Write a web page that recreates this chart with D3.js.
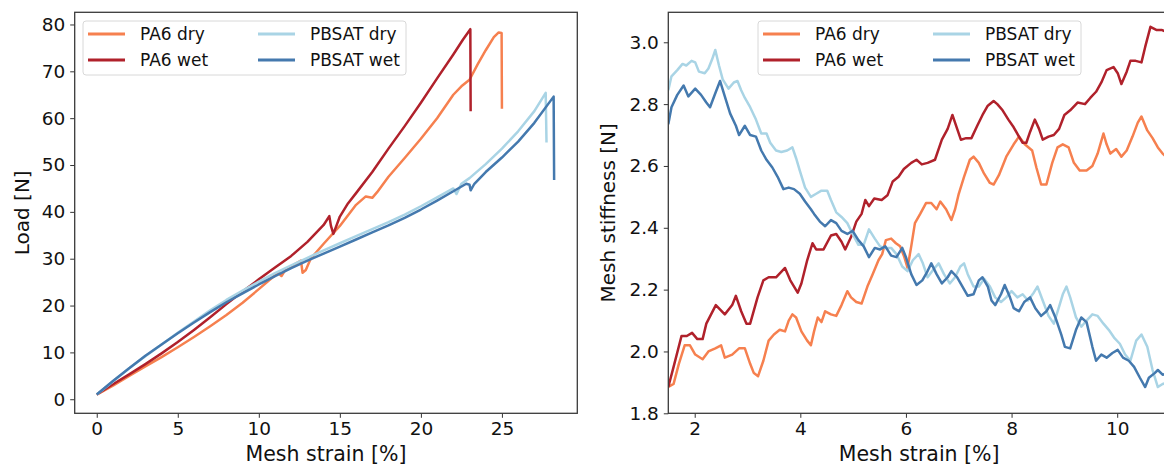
<!DOCTYPE html>
<html>
<head>
<meta charset="utf-8">
<script src="https://cdn.jsdelivr.net/npm/d3@7"></script>
<style>
  body { margin: 0; background: #fff; }
  svg { display: block; font-family: "DejaVu Sans", sans-serif; }
</style>
</head>
<body>
<svg width="1164" height="468"></svg>
<script>
// legend labels and colours
var seriesNames = ['PA6 dry', 'PA6 wet', 'PBSAT dry', 'PBSAT wet'];
var seriesColors = ['#f6804f', '#b0212b', '#a9d4e5', '#4479ae'];

// left panel: load [N] vs mesh strain [%]
var pa6DryLoad = [[0,1],[1,2.9],[2,5],[3,7],[4,9],[5,11.1],[6,13.3],[7,15.6],[8,18],[9,20.6],[10,23.5],[10.6,25.3],[11.2,27],[11.4,26.3],[11.6,27.4],[12.2,28.8],[12.6,29.6],[12.7,27],[12.9,27.6],[13.2,30],[14,33.2],[15,37],[16,41.5],[16.6,43.3],[17,43],[17.3,44.2],[18,47.5],[19,51.5],[20,55.6],[21,60],[22,65],[22.5,66.8],[23,68.2],[23.5,71.5],[24,74.5],[24.5,77.3],[24.8,78.3],[24.98,78.2],[25,62]];
var pa6WetLoad = [[0,1],[1,3.2],[2,5.3],[3,7.5],[4,9.8],[5,12.2],[6,14.8],[7,17.5],[8,20.3],[9,23],[10,25.6],[11,28.1],[12,30.6],[13,33.6],[14,37.2],[14.35,39.1],[14.45,37],[14.6,35.3],[15,39],[15.5,41.8],[16,44],[17,48.5],[18,53.5],[19,58.3],[20,63.3],[21,68.5],[22,73.6],[22.6,76.8],[23.05,79],[23.07,61.5]];
var pbsatDryLoad = [[0,1],[1,3.8],[2,6.6],[3,9.2],[4,11.7],[5,14.2],[6,16.6],[7,19],[8,21.2],[9,23.2],[10,25.1],[11,26.9],[12,28.6],[13,30.2],[14,31.8],[15,33.3],[16,34.8],[17,36.3],[18,37.8],[19,39.4],[20,41.2],[21,43.1],[22,45],[22.2,43.8],[22.5,46],[23,47.2],[24,50.2],[25,53.5],[26,57.2],[27,61.5],[27.7,65.4],[27.75,54.8]];
var pbsatWetLoad = [[0,1],[1,3.9],[2,6.6],[3,9.3],[4,11.7],[5,14.1],[6,16.4],[7,18.6],[8,20.7],[9,22.6],[10,24.5],[11,26.3],[12,28],[13,29.6],[14,31.1],[15,32.6],[16,34.1],[17,35.6],[18,37.1],[19,38.7],[20,40.5],[21,42.4],[22,44.4],[22.8,46],[23,45.8],[23.07,44.6],[23.3,46],[24,48.5],[25,51.6],[26,55],[27,59],[28.19,64.6],[28.22,46.8]];

// right panel: mesh stiffness vs mesh strain [%]
var pa6DryStiff = [[1.5,1.885],[1.6,1.895],[1.7,1.96],[1.81,2.02],[1.91,2.02],[2.01,1.99],[2.15,1.975],[2.26,2.0],[2.39,2.01],[2.5,2.02],[2.57,1.98],[2.71,1.99],[2.84,2.01],[2.95,2.01],[3.05,1.96],[3.12,1.93],[3.2,1.92],[3.3,1.97],[3.4,2.035],[3.5,2.055],[3.61,2.07],[3.71,2.065],[3.78,2.1],[3.85,2.12],[3.92,2.11],[4.02,2.065],[4.13,2.035],[4.2,2.02],[4.26,2.065],[4.33,2.11],[4.4,2.095],[4.47,2.13],[4.58,2.12],[4.68,2.115],[4.78,2.15],[4.89,2.195],[4.96,2.175],[5.06,2.16],[5.16,2.155],[5.27,2.21],[5.37,2.25],[5.48,2.295],[5.55,2.315],[5.62,2.36],[5.72,2.365],[5.81,2.35],[5.89,2.34],[5.97,2.305],[6.03,2.27],[6.1,2.34],[6.17,2.415],[6.27,2.445],[6.38,2.48],[6.48,2.48],[6.58,2.46],[6.65,2.485],[6.76,2.46],[6.86,2.425],[6.93,2.46],[7.0,2.51],[7.1,2.565],[7.21,2.62],[7.28,2.63],[7.38,2.61],[7.48,2.575],[7.59,2.545],[7.66,2.54],[7.76,2.57],[7.9,2.63],[8.04,2.67],[8.14,2.695],[8.25,2.67],[8.39,2.65],[8.47,2.595],[8.56,2.54],[8.66,2.54],[8.77,2.61],[8.87,2.66],[8.97,2.67],[9.08,2.66],[9.18,2.61],[9.29,2.585],[9.42,2.585],[9.53,2.6],[9.63,2.64],[9.74,2.705],[9.8,2.67],[9.87,2.64],[9.98,2.655],[10.08,2.63],[10.18,2.65],[10.29,2.695],[10.39,2.74],[10.46,2.76],[10.57,2.715],[10.67,2.69],[10.77,2.66],[10.86,2.64],[11.0,2.62]];
var pa6WetStiff = [[1.5,1.885],[1.6,1.95],[1.75,2.05],[1.85,2.05],[1.95,2.06],[2.05,2.04],[2.15,2.04],[2.22,2.09],[2.4,2.15],[2.57,2.12],[2.71,2.15],[2.78,2.18],[2.88,2.13],[2.98,2.09],[3.05,2.09],[3.19,2.175],[3.3,2.23],[3.4,2.24],[3.54,2.24],[3.71,2.27],[3.81,2.23],[3.95,2.19],[4.02,2.22],[4.13,2.295],[4.23,2.35],[4.3,2.33],[4.44,2.33],[4.58,2.375],[4.68,2.38],[4.78,2.355],[4.85,2.33],[4.96,2.37],[5.06,2.42],[5.16,2.445],[5.23,2.49],[5.3,2.47],[5.4,2.495],[5.54,2.49],[5.65,2.505],[5.75,2.55],[5.86,2.565],[5.96,2.59],[6.1,2.61],[6.2,2.62],[6.3,2.605],[6.41,2.61],[6.55,2.62],[6.68,2.685],[6.79,2.72],[6.88,2.765],[6.97,2.72],[7.04,2.685],[7.14,2.69],[7.24,2.69],[7.35,2.73],[7.45,2.765],[7.55,2.795],[7.66,2.81],[7.73,2.8],[7.83,2.78],[7.94,2.75],[8.04,2.725],[8.14,2.695],[8.21,2.675],[8.28,2.675],[8.35,2.71],[8.44,2.75],[8.52,2.72],[8.59,2.685],[8.7,2.695],[8.8,2.7],[8.9,2.72],[9.0,2.765],[9.11,2.78],[9.25,2.805],[9.39,2.8],[9.49,2.82],[9.6,2.84],[9.7,2.87],[9.8,2.91],[9.93,2.92],[10.01,2.9],[10.08,2.865],[10.18,2.905],[10.25,2.94],[10.35,2.94],[10.46,2.935],[10.53,2.985],[10.63,3.05],[10.74,3.04],[10.84,3.04],[11.0,3.03]];
var pbsatDryStiff = [[1.5,2.845],[1.56,2.89],[1.67,2.91],[1.77,2.93],[1.84,2.925],[1.94,2.94],[2.01,2.935],[2.08,2.905],[2.19,2.9],[2.26,2.915],[2.33,2.945],[2.39,2.975],[2.46,2.925],[2.53,2.88],[2.64,2.85],[2.74,2.87],[2.81,2.875],[2.88,2.845],[2.95,2.82],[3.05,2.79],[3.16,2.75],[3.26,2.705],[3.36,2.705],[3.43,2.675],[3.54,2.65],[3.64,2.645],[3.75,2.65],[3.85,2.66],[3.92,2.625],[3.99,2.585],[4.09,2.53],[4.2,2.5],[4.3,2.51],[4.4,2.52],[4.51,2.52],[4.58,2.49],[4.68,2.45],[4.78,2.435],[4.89,2.415],[4.99,2.38],[5.1,2.345],[5.2,2.345],[5.3,2.395],[5.41,2.365],[5.51,2.34],[5.61,2.335],[5.72,2.335],[5.82,2.315],[5.93,2.275],[6.03,2.26],[6.13,2.295],[6.24,2.315],[6.32,2.285],[6.41,2.24],[6.52,2.265],[6.62,2.285],[6.72,2.25],[6.83,2.22],[6.93,2.24],[7.03,2.275],[7.1,2.285],[7.17,2.25],[7.28,2.21],[7.38,2.21],[7.48,2.235],[7.59,2.21],[7.69,2.175],[7.8,2.16],[7.9,2.175],[8.0,2.195],[8.11,2.175],[8.21,2.185],[8.31,2.165],[8.42,2.19],[8.49,2.21],[8.59,2.165],[8.7,2.115],[8.8,2.09],[8.9,2.145],[8.97,2.185],[9.04,2.21],[9.11,2.175],[9.22,2.11],[9.32,2.08],[9.42,2.1],[9.53,2.12],[9.63,2.115],[9.74,2.09],[9.84,2.07],[9.94,2.045],[10.05,2.025],[10.15,1.99],[10.25,1.97],[10.36,2.035],[10.46,2.055],[10.57,2.015],[10.67,1.94],[10.77,1.885],[10.86,1.895],[11.0,1.9]];
var pbsatWetStiff = [[1.5,2.735],[1.56,2.79],[1.67,2.83],[1.79,2.86],[1.88,2.825],[2.01,2.85],[2.12,2.83],[2.22,2.805],[2.29,2.79],[2.39,2.835],[2.48,2.875],[2.57,2.825],[2.67,2.77],[2.78,2.73],[2.84,2.7],[2.95,2.73],[3.05,2.7],[3.16,2.695],[3.26,2.65],[3.36,2.62],[3.47,2.595],[3.57,2.565],[3.68,2.525],[3.78,2.53],[3.88,2.525],[3.99,2.51],[4.09,2.485],[4.2,2.46],[4.26,2.445],[4.37,2.42],[4.47,2.405],[4.58,2.425],[4.68,2.415],[4.78,2.39],[4.89,2.38],[4.99,2.39],[5.1,2.36],[5.2,2.34],[5.3,2.305],[5.41,2.335],[5.51,2.33],[5.61,2.34],[5.72,2.31],[5.82,2.305],[5.93,2.335],[6.0,2.305],[6.1,2.25],[6.2,2.215],[6.31,2.23],[6.41,2.26],[6.48,2.285],[6.58,2.25],[6.68,2.22],[6.79,2.24],[6.86,2.26],[6.97,2.24],[7.07,2.21],[7.17,2.18],[7.28,2.185],[7.38,2.23],[7.45,2.24],[7.55,2.21],[7.62,2.165],[7.69,2.15],[7.8,2.185],[7.87,2.215],[7.97,2.175],[8.04,2.14],[8.14,2.13],[8.24,2.16],[8.35,2.175],[8.45,2.14],[8.56,2.115],[8.66,2.13],[8.73,2.15],[8.83,2.11],[8.94,2.055],[9.01,2.015],[9.11,2.01],[9.22,2.07],[9.32,2.11],[9.42,2.095],[9.53,2.015],[9.6,1.97],[9.7,1.99],[9.8,1.98],[9.91,1.995],[10.01,2.005],[10.11,1.98],[10.22,1.97],[10.32,1.95],[10.43,1.915],[10.53,1.885],[10.6,1.915],[10.71,1.93],[10.77,1.94],[10.86,1.925],[11.0,1.93]];

// tick values
var loadStrainTicks = [0, 5, 10, 15, 20, 25];
var loadTicks = [0, 10, 20, 30, 40, 50, 60, 70, 80];
var stiffStrainTicks = [2, 4, 6, 8, 10];
var stiffTicks = [1.8, 2.0, 2.2, 2.4, 2.6, 2.8, 3.0];

var svg = d3.select('svg');

function drawPanel(opt) {
  var x = d3.scaleLinear().domain(opt.xDomain).range([opt.left, opt.right]);
  var y = d3.scaleLinear().domain(opt.yDomain).range([opt.bottom, opt.top]);

  var clipId = 'clip-' + opt.id;
  svg.append('clipPath').attr('id', clipId)
    .append('rect')
    .attr('x', opt.left).attr('y', opt.top)
    .attr('width', opt.right - opt.left).attr('height', opt.bottom - opt.top);

  var line = d3.line().x(d => x(d[0])).y(d => y(d[1]));

  var g = svg.append('g').attr('clip-path', 'url(#' + clipId + ')');
  opt.series.forEach((s, i) => {
    g.append('path')
      .datum(s)
      .attr('d', line)
      .attr('fill', 'none')
      .attr('stroke', seriesColors[i])
      .attr('stroke-width', 2.5)
      .attr('stroke-linejoin', 'round');
  });

  // axes
  var xAxis = svg.append('g')
    .attr('transform', 'translate(0,' + opt.bottom + ')')
    .call(d3.axisBottom(x).tickValues(opt.xTicks).tickSize(4.5).tickPadding(4).tickFormat(d3.format('d')));
  var yAxis = svg.append('g')
    .attr('transform', 'translate(' + opt.left + ',0)')
    .call(d3.axisLeft(y).tickValues(opt.yTicks).tickSize(4.5).tickPadding(5).tickFormat(opt.yFormat));
  [xAxis, yAxis].forEach(a => {
    a.select('.domain').remove();
    a.selectAll('line').attr('stroke', '#333').attr('stroke-width', 1);
    a.selectAll('text').attr('fill', '#111').style('font-size', '18.5px').style('font-family', '"DejaVu Sans", sans-serif');
  });

  // frame
  svg.append('rect')
    .attr('x', opt.left).attr('y', opt.top)
    .attr('width', opt.right - opt.left).attr('height', opt.bottom - opt.top)
    .attr('fill', 'none').attr('stroke', '#3a3a3a').attr('stroke-width', 1.3);

  // labels
  svg.append('text')
    .attr('x', (opt.left + opt.right) / 2).attr('y', 461)
    .attr('text-anchor', 'middle')
    .style('font-size', '20.5px').attr('fill', '#111')
    .text('Mesh strain [%]');
  svg.append('text')
    .attr('transform', 'translate(' + opt.yLabelX + ',' + (opt.top + opt.bottom) / 2 + ') rotate(-90)')
    .attr('text-anchor', 'middle')
    .attr('dy', '0.35em')
    .style('font-size', '20px').attr('fill', '#111')
    .text(opt.yLabel);

  // legend
  var lg = svg.append('g').attr('transform', 'translate(' + opt.legendX + ',21)');
  lg.append('rect')
    .attr('width', 323).attr('height', 54).attr('rx', 3)
    .attr('fill', '#fff').attr('fill-opacity', 0.85)
    .attr('stroke', '#d8d8d8').attr('stroke-width', 1);
  seriesNames.forEach((name, i) => {
    var col = Math.floor(i / 2), row = i % 2;
    var ox = 5 + col * 170, oy = 13 + row * 26;
    lg.append('line')
      .attr('x1', ox).attr('x2', ox + 37).attr('y1', oy).attr('y2', oy)
      .attr('stroke', seriesColors[i]).attr('stroke-width', 2.8);
    lg.append('text')
      .attr('x', ox + 52).attr('y', oy).attr('dy', '0.35em')
      .style('font-size', '17px').attr('fill', '#111')
      .text(name);
  });
}

drawPanel({
  id: 'load',
  left: 74.7, right: 577.3, top: 12.3, bottom: 413.3,
  xDomain: [-1.36, 29.65], yDomain: [-3.0, 82.6],
  series: [pa6DryLoad, pa6WetLoad, pbsatDryLoad, pbsatWetLoad],
  xTicks: loadStrainTicks, yTicks: loadTicks, yFormat: d3.format('d'),
  yLabel: 'Load [N]', yLabelX: 22, legendX: 83
});

drawPanel({
  id: 'stiff',
  left: 668.3, right: 1170, top: 12.3, bottom: 413.3,
  xDomain: [1.5, 11.0], yDomain: [1.8, 3.097],
  series: [pa6DryStiff, pa6WetStiff, pbsatDryStiff, pbsatWetStiff],
  xTicks: stiffStrainTicks, yTicks: stiffTicks, yFormat: d3.format('.1f'),
  yLabel: 'Mesh stiffness [N]', yLabelX: 608, legendX: 758
});
</script>
</body>
</html>
